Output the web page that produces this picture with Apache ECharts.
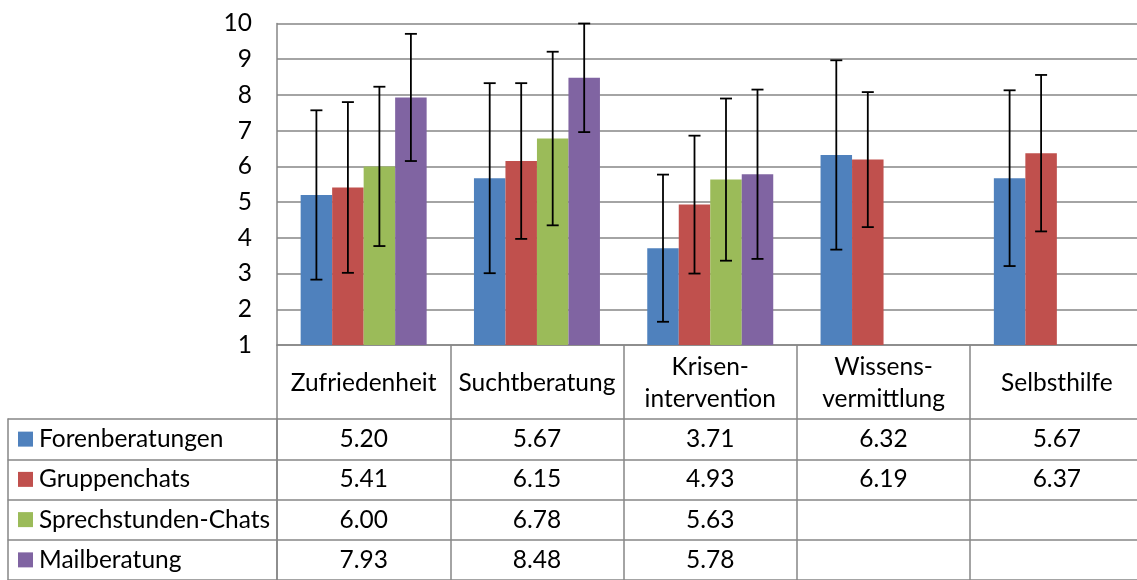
<!DOCTYPE html>
<html>
<head>
<meta charset="utf-8">
<script src="https://cdn.jsdelivr.net/npm/echarts@6/dist/echarts.min.js"></script>
<style>
html,body{margin:0;padding:0;background:#fff;overflow:hidden;}
#wrap{width:1137px;height:580px;overflow:hidden;position:relative;}
#chart{width:1200px;height:580px;position:absolute;left:0;top:0;}
</style>
</head>
<body>
<div id="wrap"><div id="chart"></div></div>
<script>
// ---- data ----
const categories = ['Zufriedenheit', 'Suchtberatung', 'Krisen-\nintervention', 'Wissens-\nvermittlung', 'Selbsthilfe'];
const seriesNames = ['Forenberatungen', 'Gruppenchats', 'Sprechstunden-Chats', 'Mailberatung'];
const forenberatungen = [5.20, 5.67, 3.71, 6.32, 5.67];
const gruppenchats = [5.41, 6.15, 4.93, 6.19, 6.37];
const sprechstundenChats = [6.00, 6.78, 5.63, null, null];
const mailberatung = [7.93, 8.48, 5.78, null, null];
// error bar half-widths
const forenErr = [2.37, 2.66, 2.06, 2.65, 2.46];
const gruppenErr = [2.39, 2.18, 1.93, 1.89, 2.19];
const sprechErr = [2.23, 2.43, 2.27, null, null];
const mailErr = [1.78, 1.52, 2.37, null, null];
const yTicks = [1, 2, 3, 4, 5, 6, 7, 8, 9, 10];

const values = [forenberatungen, gruppenchats, sprechstundenChats, mailberatung];
const errors = [forenErr, gruppenErr, sprechErr, mailErr];
const colors = ['#4F81BD', '#C0504D', '#9BBB59', '#8064A2'];

const FONT = 'Lato';
const FS = 24.5;
const GRAY = '#868686';
const GAP = 0.273;

const chart = echarts.init(document.getElementById('chart'), null, {renderer: 'canvas'});

const barSeries = values.map((arr, s) => ({
  type: 'bar',
  name: seriesNames[s],
  xAxisIndex: 0, yAxisIndex: 0,
  data: arr,
  barGap: '0%',
  barCategoryGap: (GAP * 100) + '%',
  itemStyle: {color: colors[s]},
  emphasis: {disabled: true},
  silent: true
}));

const errData = [];
values.forEach((arr, s) => arr.forEach((v, c) => {
  if (v != null && errors[s][c] != null) errData.push([c, v, errors[s][c], s]);
}));

const errSeries = {
  type: 'custom',
  xAxisIndex: 0, yAxisIndex: 0,
  data: errData,
  encode: {x: 0, y: 1},
  z: 10,
  silent: true,
  renderItem: function (params, api) {
    const c = api.value(0), v = api.value(1), e = api.value(2), s = api.value(3);
    const center = api.coord([c, v]);
    const catW = api.size([1, 0])[0];
    const barW = catW * (1 - GAP) / 4;
    const x = center[0] + (s - 1.5) * barW;
    const yt = api.coord([c, v + e])[1];
    const yb = api.coord([c, v - e])[1];
    const cap = 6;
    const st = {stroke: '#000', lineWidth: 1.8};
    return {
      type: 'group',
      children: [
        {type: 'line', shape: {x1: x, y1: yt, x2: x, y2: yb}, style: st},
        {type: 'line', shape: {x1: x - cap, y1: yt, x2: x + cap, y2: yt}, style: st},
        {type: 'line', shape: {x1: x - cap, y1: yb, x2: x + cap, y2: yb}, style: st}
      ]
    };
  }
};

const tableData = [];
values.forEach((arr, s) => arr.forEach((v, c) => {
  if (v != null) tableData.push([c, s, v]);
}));

const tableSeries = {
  type: 'custom',
  xAxisIndex: 1, yAxisIndex: 1,
  data: tableData,
  encode: {x: 0, y: 1},
  silent: true,
  renderItem: function (params, api) {
    const p = api.coord([api.value(0), api.value(1)]);
    return {
      type: 'text',
      style: {
        x: p[0], y: p[1],
        text: api.value(2).toFixed(2),
        font: FS + 'px ' + FONT,
        fill: '#000',
        align: 'center',
        verticalAlign: 'middle'
      }
    };
  }
};

const rich = {n: {fontFamily: FONT, fontSize: FS, color: '#000', padding: [0, 0, 0, 6]}};
colors.forEach((col, i) => { rich['q' + i] = {width: 15, height: 15, backgroundColor: col}; });

const option = {
  animation: false,
  backgroundColor: '#fff',
  grid: [
    {left: 277, top: 23.5, width: 866.5, height: 321.5},
    {left: 277, top: 345 + 74, width: 866.5, height: 41.67 * 4}
  ],
  xAxis: [
    {
      type: 'category', gridIndex: 0, data: categories,
      axisLine: {show: true, lineStyle: {color: GRAY, width: 1.5}},
      axisTick: {show: true, length: 260, lineStyle: {color: GRAY, width: 1.5}},
      axisLabel: {
        interval: 0, margin: 38, verticalAlign: 'middle', lineHeight: 32,
        fontFamily: FONT, fontSize: FS, color: '#000'
      }
    },
    {
      type: 'category', gridIndex: 1, data: categories,
      axisLine: {show: false}, axisTick: {show: false}, axisLabel: {show: false}
    }
  ],
  yAxis: [
    {
      type: 'value', gridIndex: 0, min: yTicks[0], max: yTicks[yTicks.length - 1], interval: 1,
      axisLine: {show: true, lineStyle: {color: GRAY, width: 1.5}},
      axisTick: {show: false},
      splitLine: {show: true, lineStyle: {color: GRAY, width: 1.5}},
      axisLabel: {margin: 25, fontFamily: FONT, fontSize: FS, color: '#000'}
    },
    {
      type: 'category', gridIndex: 1, data: seriesNames, inverse: true,
      axisLine: {show: true, lineStyle: {color: GRAY, width: 1.5}},
      axisTick: {show: true, length: 269.3, interval: 0, lineStyle: {color: GRAY, width: 1.5}},
      splitLine: {show: true, interval: 0, lineStyle: {color: GRAY, width: 1.5}},
      axisLabel: {
        interval: 0, margin: 259, align: 'left',
        formatter: function (val, idx) { return '{q' + idx + '|}{n|' + val + '}'; },
        rich: rich
      }
    },
    {
      type: 'category', gridIndex: 1, data: seriesNames, inverse: true, position: 'left', offset: 269.3,
      axisLine: {show: true, lineStyle: {color: GRAY, width: 1.5}},
      axisTick: {show: false}, axisLabel: {show: false}, splitLine: {show: false}
    }
  ],
  series: barSeries.concat([errSeries, tableSeries])
};
chart.setOption(option);
</script>
</body>
</html>
